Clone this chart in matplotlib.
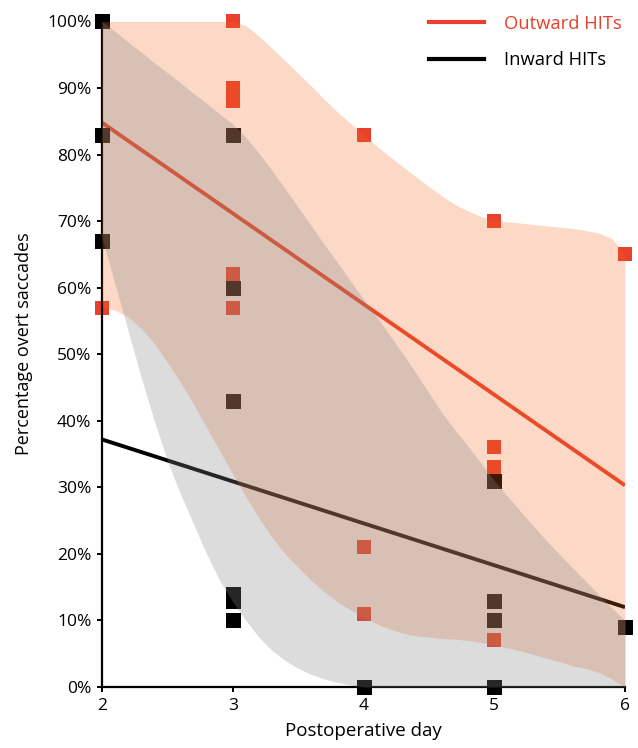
import numpy as np
import matplotlib
matplotlib.use('Agg')
import matplotlib.pyplot as plt
from matplotlib.lines import Line2D

plt.rcParams['font.family'] = ['Open Sans', 'DejaVu Sans']

# scatter points (percentage overt saccades per patient)
outward_days = [2, 3, 3, 3, 3, 3, 4, 4, 4, 5, 5, 5, 5, 6]
outward_pct = [57, 100, 90, 88, 62, 57, 83, 21, 11, 70, 36, 33, 7, 65]
inward_days = [2, 2, 2, 3, 3, 3, 3, 3, 3, 4, 5, 5, 5, 5, 6]
inward_pct = [100, 83, 67, 83, 60, 43, 14, 13, 10, 0, 31, 13, 10, 0, 9]

# linear fits, read at the ends of the axis
fit_days = [2, 6]
outward_fit = [84.8, 30.3]
inward_fit = [37.2, 12.0]

# confidence bands, every 0.1 day
band_days = np.round(np.arange(2.0, 6.01, 0.1), 1)
outward_upper = [100, 100, 100, 100, 100, 100, 100, 100, 100, 100,
                 100, 99.4, 97.8, 96.0, 94.1, 92.2, 90.3, 88.3, 86.4, 84.7,
                 83.0, 81.3, 79.7, 78.2, 76.7, 75.2, 73.8, 72.5, 71.5, 70.7,
                 70.2, 69.9, 69.7, 69.5, 69.3, 69.1, 68.9, 68.6, 68.2, 67.4,
                 65.0]
outward_lower = [57.0, 56.6, 55.6, 53.9, 51.6, 48.8, 45.8, 42.5, 39.0, 35.5,
                 32.0, 28.6, 25.4, 22.5, 20.0, 18.0, 16.0, 14.3, 12.8, 11.6,
                 10.5, 9.5, 8.7, 8.1, 7.7, 7.5, 7.3, 7.2, 7.0, 6.7,
                 6.3, 5.9, 5.4, 4.9, 4.3, 3.8, 3.2, 2.8, 2.2, 1.2,
                 0.0]
inward_upper = [100, 98.5, 96.9, 95.4, 93.8, 92.3, 90.8, 89.2, 87.7, 86.1,
                84.6, 82.6, 80.2, 77.6, 74.9, 72.1, 69.3, 66.5, 63.8, 61.0,
                58.3, 55.6, 52.9, 50.1, 47.2, 44.2, 41.2, 38.6, 36.2, 33.6,
                31.0, 28.7, 26.4, 24.2, 22.0, 19.9, 17.9, 15.9, 13.9, 11.9,
                10.0]
inward_lower = [67.5, 60.5, 53.5, 46.5, 40.0, 34.0, 29.0, 24.5, 20.0, 16.0,
                12.8, 10.0, 7.5, 5.5, 4.0, 2.8, 1.9, 1.2, 0.7, 0.3,
                0, 0, 0, 0, 0, 0, 0, 0, 0, 0,
                0, 0, 0, 0, 0, 0, 0, 0, 0, 0,
                0]

red = '#E8402A'

fig = plt.figure(figsize=(6.38, 7.48), dpi=100)
ax = fig.add_axes([0.1599, 0.0815, 0.8197, 0.8898])

ax.plot(fit_days, outward_fit, color=red, lw=2.8, zorder=2, solid_capstyle='butt')
ax.plot(fit_days, inward_fit, color='black', lw=2.8, zorder=2, solid_capstyle='butt')

ax.plot(outward_days, outward_pct, 's', color=red, ms=9.4, mew=0, zorder=2, clip_on=False)
ax.plot(inward_days, inward_pct, 's', color='black', ms=10.8, mew=0, zorder=2, clip_on=False)

ax.fill_between(band_days, outward_lower, outward_upper, color=(247/255, 107/255, 35/255),
                alpha=0.25, lw=0, zorder=3)
ax.fill_between(band_days, inward_lower, inward_upper, color=(133/255, 133/255, 133/255),
                alpha=0.286, lw=0, zorder=3)

ax.set_xlim(2, 6)
ax.set_ylim(0, 100)
ax.set_xticks([2, 3, 4, 5, 6])
ax.set_yticks(np.arange(0, 101, 10))
ax.set_yticklabels(['%d%%' % v for v in range(0, 101, 10)])
for s in ['top', 'right']:
    ax.spines[s].set_visible(False)
for s in ['left', 'bottom']:
    ax.spines[s].set_linewidth(1.6)
ax.tick_params(length=3.6, width=1.4, labelsize=12.5, pad=4, color='black')

ax.set_xlabel('Postoperative day', fontsize=13.5, labelpad=6)
ax.set_ylabel('Percentage overt saccades', fontsize=13)
ax.yaxis.set_label_coords(-0.132, 0.516)

handles = [Line2D([], [], color=red, lw=3), Line2D([], [], color='black', lw=3)]
leg = ax.legend(handles, ['Outward HITs', 'Inward HITs'], loc='upper right',
                bbox_to_anchor=(1.025, 1.035), frameon=False, fontsize=13.2,
                handlelength=3.0, handletextpad=1.1, labelspacing=1.0)
leg.get_texts()[0].set_color(red)

fig.savefig('out.png', dpi=100)
